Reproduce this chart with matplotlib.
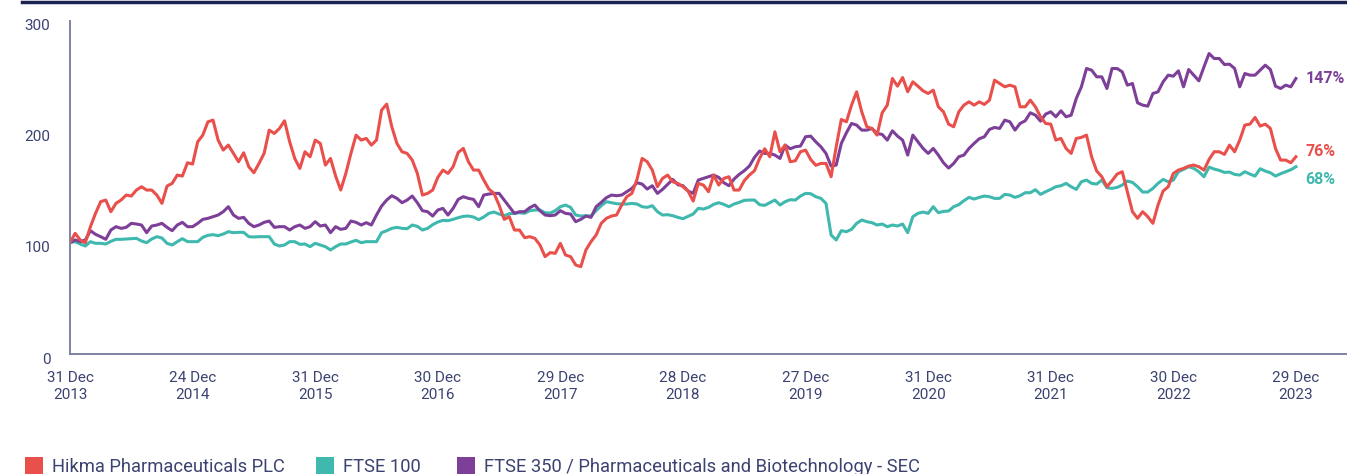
import numpy as np
import matplotlib.pyplot as plt
import matplotlib.transforms as mtransforms
from matplotlib.patches import Rectangle
from matplotlib.lines import Line2D

# Total shareholder return index, 31 Dec 2013 = 100 (read roughly twice a month)
hikma = [
    100.3, 108.7, 102.7, 100.3, 114.7, 126.7, 137.2, 138.7, 128.2, 135.7,
    138.7, 143.2, 142.3, 147.7, 150.7, 147.7, 147.7, 143.2, 135.7, 151.3,
    153.7, 161.2, 160.3, 172.3, 171.1, 191.2, 197.2, 209.2, 210.7, 192.7,
    183.7, 188.2, 180.7, 173.2, 181.3, 168.7, 163.3, 171.7, 180.7, 201.7,
    198.7, 203.2, 210.1, 191.2, 176.2, 167.2, 182.2, 177.7, 192.7, 189.7,
    170.2, 176.2, 160.3, 147.7, 162.7, 180.7, 197.2, 192.7, 194.2, 188.2,
    192.7, 219.7, 225.1, 204.7, 189.7, 182.2, 180.7, 174.7, 162.7, 143.2,
    144.7, 147.7, 159.1, 165.7, 162.7, 168.7, 181.6, 185.2, 173.2, 165.7,
    165.7, 156.7, 148.6, 144.7, 134.2, 121.3, 123.7, 111.7, 111.7, 104.8,
    105.7, 104.2, 98.2, 87.7, 91.3, 90.7, 99.7, 89.2, 87.7, 80.2,
    78.7, 93.7, 101.2, 107.2, 117.7, 122.2, 124.3, 125.2, 134.2, 141.7,
    144.7, 157.3, 176.2, 173.2, 165.7, 150.7, 158.2, 161.2, 155.2, 153.7,
    150.7, 146.8, 137.8, 153.7, 152.2, 146.2, 161.2, 152.2, 158.2, 159.7,
    147.7, 147.7, 156.1, 161.2, 165.1, 176.2, 184.9, 177.7, 200.2, 182.2,
    188.2, 173.2, 174.1, 182.2, 183.7, 175.3, 170.0, 171.7, 171.7, 159.7,
    186.7, 211.3, 209.2, 224.2, 236.2, 218.2, 204.7, 203.2, 197.2, 217.3,
    224.2, 248.2, 241.3, 249.1, 236.2, 245.2, 241.3, 237.1, 234.7, 237.7,
    222.7, 218.2, 207.1, 204.7, 218.2, 224.2, 227.2, 224.2, 227.2, 224.8,
    228.7, 246.7, 243.7, 240.7, 242.2, 240.7, 222.7, 222.7, 228.7, 222.7,
    213.7, 207.7, 207.1, 192.7, 194.2, 185.2, 180.7, 194.2, 195.1, 197.2,
    177.7, 164.8, 159.7, 150.7, 156.1, 162.1, 164.2, 146.2, 128.2, 122.2,
    128.2, 123.7, 117.7, 134.2, 146.8, 150.7, 162.7, 165.7, 167.2, 169.3,
    170.2, 168.7, 165.7, 175.3, 182.2, 182.2, 179.8, 188.2, 182.2, 192.7,
    206.2, 207.1, 213.1, 205.3, 207.1, 203.2, 185.2, 174.7, 174.7, 172.3,
    177.7]

ftse100 = [
    100.3, 101.2, 99.1, 97.3, 101.2, 99.7, 99.7, 99.1, 101.5, 103.3,
    103.3, 103.6, 103.9, 104.2, 101.8, 100.3, 103.6, 105.7, 104.5, 99.7,
    98.2, 101.2, 103.9, 101.2, 101.2, 101.2, 105.1, 106.9, 107.5, 106.6,
    108.1, 110.2, 109.3, 109.6, 109.6, 105.7, 105.4, 105.7, 105.7, 105.7,
    99.1, 97.3, 98.2, 101.2, 101.2, 98.8, 99.1, 96.7, 99.7, 98.2,
    96.7, 93.7, 96.7, 99.1, 99.1, 100.9, 102.4, 100.3, 101.2, 101.2,
    101.2, 109.3, 111.1, 113.2, 114.1, 113.2, 112.9, 116.2, 115.0, 111.7,
    113.2, 116.5, 118.9, 120.4, 120.1, 121.3, 122.8, 124.0, 124.3, 123.4,
    121.0, 123.4, 126.7, 127.9, 126.1, 124.6, 126.4, 126.7, 127.3, 126.7,
    129.1, 129.7, 129.7, 127.3, 127.0, 129.1, 132.7, 134.2, 132.1, 125.2,
    124.3, 124.6, 124.3, 129.1, 133.6, 137.2, 136.3, 135.4, 135.1, 135.1,
    135.7, 135.1, 132.7, 132.1, 133.6, 128.2, 125.2, 125.5, 124.6, 123.1,
    121.9, 124.0, 126.1, 131.2, 130.6, 132.1, 134.8, 136.3, 134.8, 132.7,
    135.1, 136.6, 138.4, 138.7, 138.7, 134.5, 133.9, 136.3, 138.7, 134.2,
    137.2, 139.0, 138.7, 142.3, 144.7, 144.4, 141.7, 140.2, 135.7, 107.2,
    102.7, 111.1, 110.2, 112.3, 117.7, 120.7, 119.2, 118.3, 116.2, 117.1,
    114.7, 116.2, 115.3, 117.1, 109.3, 123.7, 126.7, 127.9, 126.7, 132.7,
    127.3, 128.5, 128.8, 132.7, 134.5, 138.1, 141.1, 139.6, 141.1, 142.3,
    141.7, 140.2, 140.2, 143.8, 143.2, 141.1, 142.6, 145.3, 145.3, 148.0,
    143.8, 146.2, 148.3, 150.7, 151.6, 153.7, 150.7, 148.3, 155.2, 156.7,
    153.7, 153.1, 156.7, 149.8, 149.2, 150.1, 152.2, 155.8, 154.6, 150.7,
    145.9, 145.9, 149.2, 153.7, 157.3, 155.2, 156.7, 164.2, 166.3, 168.7,
    167.2, 164.2, 159.7, 168.4, 166.6, 165.4, 163.6, 163.9, 161.8, 161.2,
    164.2, 162.1, 160.3, 166.9, 164.8, 163.3, 160.3, 162.4, 164.2, 166.0,
    168.7]

ftse350_pharma = [
    100.3, 102.7, 101.2, 102.7, 111.1, 107.8, 105.7, 103.3, 111.7, 114.7,
    113.2, 114.1, 117.7, 117.1, 116.2, 109.3, 115.3, 116.2, 117.7, 114.1,
    111.1, 116.2, 118.6, 114.7, 114.7, 117.7, 121.3, 122.2, 123.7, 125.2,
    128.2, 132.7, 125.2, 122.2, 123.1, 117.7, 114.7, 116.2, 118.6, 119.8,
    114.1, 114.7, 114.7, 111.7, 114.7, 116.2, 113.2, 114.7, 119.2, 115.3,
    116.2, 109.3, 114.7, 112.3, 113.2, 119.8, 118.6, 116.2, 118.3, 116.2,
    125.2, 133.3, 138.7, 142.6, 140.2, 136.3, 138.7, 142.3, 136.3, 129.1,
    128.2, 124.3, 129.7, 131.2, 125.2, 131.2, 139.3, 141.7, 140.2, 139.3,
    132.7, 143.2, 144.1, 144.7, 144.7, 138.7, 132.7, 126.7, 128.2, 128.2,
    131.8, 134.2, 129.1, 125.2, 124.6, 125.2, 129.1, 126.7, 126.1, 119.2,
    121.3, 124.3, 123.1, 132.7, 136.6, 140.8, 143.2, 142.6, 143.2, 146.2,
    149.2, 154.3, 153.1, 148.6, 151.6, 144.7, 148.3, 152.8, 157.3, 152.5,
    151.6, 146.8, 144.7, 156.7, 158.2, 159.7, 161.2, 159.1, 154.3, 151.6,
    157.6, 161.8, 165.1, 169.3, 177.1, 182.8, 180.7, 180.7, 179.2, 176.2,
    188.2, 184.9, 186.7, 187.3, 195.7, 196.3, 191.2, 186.7, 180.7, 169.3,
    170.2, 189.7, 199.3, 207.7, 206.2, 201.7, 201.7, 203.2, 198.7, 197.8,
    192.7, 201.1, 196.3, 192.7, 179.2, 197.2, 191.2, 185.2, 180.7, 185.2,
    179.2, 172.3, 167.5, 171.7, 177.7, 179.2, 185.2, 189.7, 193.9, 195.7,
    202.3, 204.1, 203.2, 210.7, 209.2, 201.7, 207.7, 210.1, 217.3, 215.2,
    209.8, 216.1, 218.2, 213.7, 219.1, 213.7, 215.2, 230.2, 240.7, 257.2,
    255.7, 249.7, 249.7, 239.2, 257.2, 257.2, 254.2, 242.2, 243.7, 226.3,
    224.2, 223.3, 234.7, 236.2, 245.2, 251.2, 250.3, 255.1, 240.7, 256.3,
    251.2, 246.1, 258.7, 270.7, 266.2, 266.2, 260.8, 261.1, 257.2, 240.7,
    252.7, 251.2, 251.2, 255.7, 260.2, 256.3, 241.3, 239.2, 242.2, 240.7,
    248.2]

tick_labels = ['31 Dec\n2013', '24 Dec\n2014', '31 Dec\n2015', '30 Dec\n2016',
               '29 Dec\n2017', '28 Dec\n2018', '27 Dec\n2019', '31 Dec\n2020',
               '31 Dec\n2021', '30 Dec\n2022', '29 Dec\n2023']
series_names = ['Hikma Pharmaceuticals PLC', 'FTSE 100',
                'FTSE 350 / Pharmaceuticals and Biotechnology - SEC']
end_labels = ['76%', '68%', '147%']

RED = '#e94f4b'
TEAL = '#3fb8ae'
PURPLE = '#7d3f98'
NAVY = '#3b4270'
AXIS = '#7f83a3'

plt.rcParams['font.family'] = ['Roboto', 'DejaVu Sans']

W, H = 1347, 474
fig = plt.figure(figsize=(W / 100, H / 100), dpi=100)
ax = fig.add_axes([70 / W, 120 / H, 1277 / W, 333 / H])

x = np.arange(len(hikma))
ax.plot(x, ftse100, color=TEAL, lw=2.2, solid_joinstyle='round')
ax.plot(x, ftse350_pharma, color=PURPLE, lw=2.2, solid_joinstyle='round')
ax.plot(x, hikma, color=RED, lw=2.2, solid_joinstyle='round')

ax.set_xlim(0, 250)
ax.set_ylim(0, 300)
ax.set_yticks([0, 100, 200, 300])
ax.set_xticks(x[::24])
ax.set_xticklabels(tick_labels, linespacing=1.3)
ax.tick_params(length=0, labelsize=11, colors=NAVY)
ax.tick_params(axis='x', pad=12)
ax.tick_params(axis='y', pad=14)

# y labels sit a little below their values in the original
shift = mtransforms.ScaledTranslation(0, -0.04, fig.dpi_scale_trans)
for lab in ax.get_yticklabels():
    lab.set_transform(lab.get_transform() + shift)

for s in ['top', 'right']:
    ax.spines[s].set_visible(False)
for s in ['left', 'bottom']:
    ax.spines[s].set_color(AXIS)
    ax.spines[s].set_linewidth(1.4)

# end-of-line labels
ends = [(hikma, RED, 3.5), (ftse100, TEAL, -9.5), (ftse350_pharma, PURPLE, 0)]
for (vals, col, dy), lab in zip(ends, end_labels):
    ax.annotate(lab, (x[-1], vals[-1]), xytext=(7, dy), textcoords='offset points',
                va='center', ha='left', color=col, fontsize=11.5, fontweight='bold')

# dark rule on top
fig.add_artist(Line2D([22 / W, 1], [1 - 1.5 / H] * 2, transform=fig.transFigure,
                      color='#1c2353', lw=2.5))

# legend squares at the bottom
leg_x = [(25, 52), (316, 343), (457, 484)]
for (sx, tx), col, name in zip(leg_x, [RED, TEAL, PURPLE], series_names):
    fig.add_artist(Rectangle((sx / W, 0), 18 / W, 17 / H, transform=fig.transFigure,
                             color=col, lw=0))
    fig.text(tx / W, (H - 467) / H, name, fontsize=13.2, color=NAVY, va='center')

fig.savefig('out.png', dpi=100)
